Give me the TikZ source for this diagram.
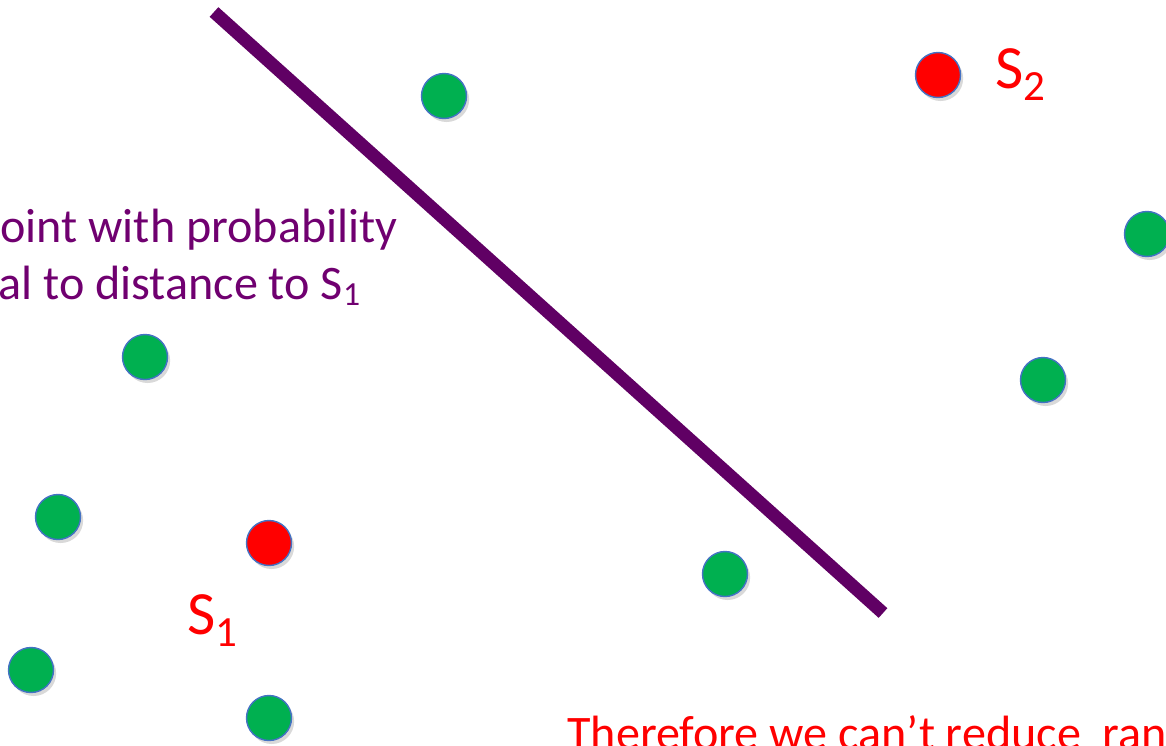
\documentclass[tikz,border=0pt]{standalone}
\usepackage{fontspec}
\setmainfont{Carlito}
\usetikzlibrary{shadows}

\definecolor{slidegreen}{RGB}{0,176,80}
\definecolor{slidered}{RGB}{255,0,0}
\definecolor{rimblue}{RGB}{68,114,196}
\definecolor{cutpurple}{RGB}{96,0,100}
\definecolor{notepurple}{RGB}{112,0,112}

\begin{document}
\begin{tikzpicture}[x=0.02cm,y=-0.02cm,
  dot/.style={circle,draw=rimblue,line width=0.8pt,minimum size=0.9cm,inner sep=0pt,
    drop shadow={shadow xshift=1.5pt,shadow yshift=-2pt,opacity=0.25,fill=black!60}},
  pt/.style={dot,fill=slidegreen},
  center/.style={dot,fill=slidered},
  note/.style={anchor=base west,inner sep=0pt,font=\fontsize{27.4}{33}\selectfont},
  slabel/.style={anchor=base west,inner sep=0pt,text=slidered,font=\fontsize{35}{42}\selectfont}]
\useasboundingbox (0,0) rectangle (1166,745);
\clip (0,0) rectangle (1166,745);

% separating line
\coordinate (top) at (214,12);
\coordinate (bot) at (883,613);
\draw[cutpurple,line width=7.4pt] (top) -- (bot);

% centres
\node[center] (s2) at (938,75) {};
\node[center] (s1) at (269,543) {};
\node[slabel] (s2lbl) at (995,88) {S\textsubscript{2}};
\node[slabel] (s1lbl) at (187,634) {S\textsubscript{1}};

% data points
\node[pt] (p1) at (444,96) {};
\node[pt] (p2) at (1147,234) {};
\node[pt] (p3) at (145,357) {};
\node[pt] (p4) at (1043,380) {};
\node[pt] (p5) at (58,517) {};
\node[pt] (p6) at (725,574) {};
\node[pt] (p7) at (31,670) {};
\node[pt] (p8) at (269,718) {};

% notes
\node[note,text=notepurple] (pick1) at (0,242) {oint with probability};
\node[note,text=notepurple] (pick2) at (-2,299) {al to distance to S\textsubscript{1}};
\node[note,text=slidered] (concl) at (567,749) {Therefore we can’t reduce\ \ ran};
\end{tikzpicture}
\end{document}
